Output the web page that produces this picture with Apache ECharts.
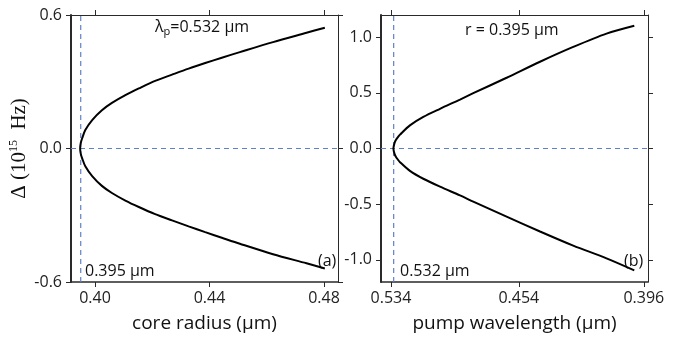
<!DOCTYPE html>
<html>
<head>
<meta charset="utf-8">
<script src="https://cdn.jsdelivr.net/npm/echarts@6/dist/echarts.min.js"></script>
<style>
  html, body { margin: 0; padding: 0; background: #fff; }
  #main { width: 681px; height: 339px; }
</style>
</head>
<body>
<div id="main"></div>
<script>
// (a) core radius sweep, pump fixed at 0.532 um
var coreRadius = [0.3948, 0.3950, 0.3955, 0.3966, 0.3990, 0.4024, 0.4059, 0.4106, 0.4153, 0.4210, 0.4269, 0.4327, 0.4385, 0.4443, 0.4506, 0.4622, 0.4739, 0.4803];
var deltaUpA   = [0, 0.024, 0.046, 0.083, 0.128, 0.172, 0.205, 0.240, 0.270, 0.304, 0.332, 0.359, 0.384, 0.408, 0.433, 0.478, 0.520, 0.543];
var deltaDownA = [0, -0.023, -0.044, -0.080, -0.124, -0.168, -0.200, -0.234, -0.263, -0.295, -0.323, -0.350, -0.376, -0.401, -0.428, -0.475, -0.516, -0.539];

// (b) pump wavelength sweep, r fixed at 0.395 um (axis is linear in 1/lambda)
var pumpWavelength = [0.5322, 0.5313, 0.5302, 0.5288, 0.5274, 0.5204, 0.5112, 0.5002, 0.4876, 0.4796, 0.4606, 0.4430, 0.4268, 0.4117, 0.3999];
var deltaUpB   = [0, 0.052, 0.080, 0.104, 0.125, 0.208, 0.284, 0.357, 0.440, 0.497, 0.636, 0.780, 0.913, 1.033, 1.104];
var deltaDownB = [0, -0.051, -0.078, -0.102, -0.123, -0.201, -0.272, -0.343, -0.422, -0.477, -0.612, -0.746, -0.873, -0.987, -1.095];

var ticksA = [0.40, 0.44, 0.48];
var ticksYA = [-0.6, 0.0, 0.6];
var tickLabelsB = ['0.534', '0.454', '0.396'];
var ticksYB = [-1.0, -0.5, 0.0, 0.5, 1.0];

var markA = { r: 0.395, text: '0.395 \u00b5m' };
var markB = { lambda: 0.532, text: '0.532 \u00b5m' };

// axis extents
var xRangeA = [0.3916, 0.4849];
var yRangeA = [-0.6, 0.6];
var xRangeB = [1.847, 2.536];   // 1/um
var yRangeB = [-1.2, 1.2];

function branchPairs(xs, up, down, fx) {
  var pts = [];
  for (var i = xs.length - 1; i >= 0; i--) pts.push([fx(xs[i]), down[i]]);
  for (var j = 1; j < xs.length; j++) pts.push([fx(xs[j]), up[j]]);
  return pts;
}

var ticksB = tickLabelsB.map(function (s) { return 1 / parseFloat(s); });

var font = '"Open Sans", "Noto Sans", sans-serif';
var serif = '"Liberation Serif", serif';
var axisCol = '#2a2a2a';
var dashCol = '#5f7fc6';

function xAx(grid, range, ticks, fmt, pos, name) {
  return {
    type: 'value', gridIndex: grid, position: pos, min: range[0], max: range[1],
    axisLine: { onZero: false, lineStyle: { color: axisCol, width: pos === 'bottom' ? 1.5 : 1 } },
    axisTick: { show: true, inside: false, length: 5, customValues: ticks, lineStyle: { color: axisCol, width: 1 } },
    axisLabel: pos === 'bottom' ? { show: true, customValues: ticks, formatter: fmt, margin: 8, color: '#222', fontFamily: font, fontSize: 16 } : { show: false },
    splitLine: { show: false },
    axisPointer: { show: false },
    name: name || '', nameLocation: 'middle', nameGap: 32,
    nameTextStyle: { color: '#111', fontFamily: font, fontSize: 19 }
  };
}

function yAx(grid, range, ticks, pos, extra) {
  var o = {
    type: 'value', gridIndex: grid, position: pos, min: range[0], max: range[1],
    axisLine: { onZero: false, lineStyle: { color: axisCol, width: pos === 'left' ? 2 : 1 } },
    axisTick: { show: true, inside: false, length: 5, customValues: ticks, lineStyle: { color: axisCol, width: 1 } },
    axisLabel: pos === 'left' ? { show: true, customValues: ticks, formatter: function (v) { return v.toFixed(1); }, margin: 9, color: '#222', fontFamily: font, fontSize: 16 } : { show: false },
    splitLine: { show: false },
    axisPointer: { show: false }
  };
  if (extra) for (var k in extra) o[k] = extra[k];
  return o;
}

function dashSeries(xi, yi, pts) {
  return {
    type: 'line', xAxisIndex: xi, yAxisIndex: yi, showSymbol: false, silent: true, z: 1,
    lineStyle: { color: dashCol, type: [5, 4], width: 1.2 },
    data: pts
  };
}

var chart = echarts.init(document.getElementById('main'));
chart.setOption({
  backgroundColor: '#fff',
  animation: false,
  grid: [
    { left: 71, top: 15, width: 267, height: 267 },
    { left: 381, top: 15, width: 267, height: 267 }
  ],
  xAxis: [
    xAx(0, xRangeA, ticksA, function (v) { return v.toFixed(2); }, 'bottom', 'core radius (\u00b5m)'),
    xAx(0, xRangeA, ticksA, null, 'top'),
    xAx(1, xRangeB, ticksB, function (v) { return (1 / v).toFixed(3); }, 'bottom', 'pump wavelength (\u00b5m)'),
    xAx(1, xRangeB, ticksB, null, 'top')
  ],
  yAxis: [
    yAx(0, yRangeA, ticksYA, 'left', {
      name: '{a|\u0394 (10}{s|15}{a|  Hz)}', nameLocation: 'middle', nameGap: 31,
      nameTextStyle: {
        color: '#111',
        rich: {
          a: { fontFamily: serif, fontSize: 21, lineHeight: 24, color: '#111' },
          s: { fontFamily: serif, fontSize: 12, lineHeight: 12, verticalAlign: 'top', color: '#111' }
        }
      }
    }),
    yAx(0, yRangeA, ticksYA, 'right'),
    yAx(1, yRangeB, ticksYB, 'left'),
    yAx(1, yRangeB, ticksYB, 'right')
  ],
  series: [
    dashSeries(0, 0, [[markA.r, yRangeA[0]], [markA.r, yRangeA[1]]]),
    dashSeries(0, 0, [[xRangeA[0], 0], [xRangeA[1], 0]]),
    dashSeries(2, 2, [[1 / markB.lambda, yRangeB[0]], [1 / markB.lambda, yRangeB[1]]]),
    dashSeries(2, 2, [[xRangeB[0], 0], [xRangeB[1], 0]]),
    {
      type: 'line', xAxisIndex: 0, yAxisIndex: 0, showSymbol: false, smooth: 0.3, z: 3,
      lineStyle: { color: '#000', width: 2 },
      data: branchPairs(coreRadius, deltaUpA, deltaDownA, function (r) { return r; })
    },
    {
      type: 'line', xAxisIndex: 2, yAxisIndex: 2, showSymbol: false, smooth: 0.3, z: 3,
      lineStyle: { color: '#000', width: 2 },
      data: branchPairs(pumpWavelength, deltaUpB, deltaDownB, function (l) { return 1 / l; })
    }
  ],
  graphic: [
    { type: 'text', x: 155, y: 27, style: { text: '{a|\u03bb}{b|p}{a|=0.532 \u00b5m}', verticalAlign: 'middle',
      rich: { a: { fontFamily: font, fontSize: 16, lineHeight: 20, fill: '#111' }, b: { fontFamily: font, fontSize: 11, lineHeight: 11, verticalAlign: 'bottom', fill: '#111' } } } },
    { type: 'text', x: 85, y: 271, style: { text: markA.text, fontFamily: font, fontSize: 16, fill: '#111', verticalAlign: 'middle' } },
    { type: 'text', x: 318, y: 261, style: { text: '(a)', fontFamily: font, fontSize: 16, fill: '#111', verticalAlign: 'middle' } },
    { type: 'text', x: 465, y: 30, style: { text: 'r = 0.395 \u00b5m', fontFamily: font, fontSize: 16, fill: '#111', verticalAlign: 'middle' } },
    { type: 'text', x: 400, y: 271, style: { text: markB.text, fontFamily: font, fontSize: 16, fill: '#111', verticalAlign: 'middle' } },
    { type: 'text', x: 624, y: 261, style: { text: '(b)', fontFamily: font, fontSize: 16, fill: '#111', verticalAlign: 'middle' } }
  ]
});
</script>
</body>
</html>
